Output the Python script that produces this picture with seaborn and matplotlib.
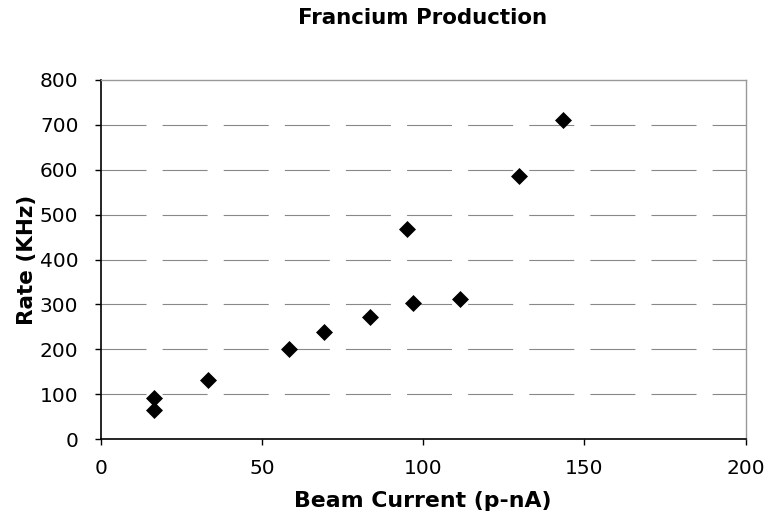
import pandas as pd
import matplotlib
matplotlib.use("Agg")
import matplotlib.pyplot as plt
import seaborn as sns

# values
beam_current = [16.5, 16.5, 33.2, 58.3, 69.2, 83.4, 96.8, 94.9, 111.3, 129.6, 143.3]
rate_khz = [65, 91, 131, 200, 238, 272, 303, 468, 312, 585, 710]

x_ticks = [0, 50, 100, 150, 200]
y_ticks = [0, 100, 200, 300, 400, 500, 600, 700, 800]

df = pd.DataFrame({"Beam Current (p-nA)": beam_current, "Rate (KHz)": rate_khz})

sns.set_style("white")
plt.rcParams["font.family"] = ["DejaVu Sans"]
plt.rcParams["text.color"] = "black"
plt.rcParams["axes.labelcolor"] = "black"

fig = plt.figure(figsize=(7.68, 5.19), dpi=100)
ax = fig.add_axes([0.131, 0.154, 0.840, 0.692])

sns.scatterplot(data=df, x="Beam Current (p-nA)", y="Rate (KHz)", marker="D",
                color="black", s=75, edgecolor="black", linewidth=0, ax=ax, zorder=3)

ax.set_xlim(0, 200)
ax.set_ylim(0, 800)
ax.set_xticks(x_ticks)
ax.set_yticks(y_ticks)
ax.tick_params(axis="both", labelsize=14.5, length=4, width=1, colors="black",
               direction="out", bottom=True, left=True, pad=12)
ax.tick_params(axis="x", pad=10)

# long dashed horizontal grid
for v in y_ticks[1:-1]:
    ax.axhline(v, color="#888888", linewidth=0.8, linestyle=(0, (40.5, 14.5)), zorder=1)

for side in ["top", "right"]:
    ax.spines[side].set_color("#999999")
    ax.spines[side].set_linewidth(1.0)
for side in ["left", "bottom"]:
    ax.spines[side].set_color("black")
    ax.spines[side].set_linewidth(1.2)

ax.set_xlabel("Beam Current (p-nA)", fontsize=15.8, fontweight="bold", labelpad=10)
ax.set_ylabel("Rate (KHz)", fontsize=15.5, fontweight="bold", labelpad=2)
fig.text(0.55, 0.965, "Francium Production", ha="center", va="center",
         fontsize=15.4, fontweight="bold")

fig.savefig("out.png", dpi=100)
